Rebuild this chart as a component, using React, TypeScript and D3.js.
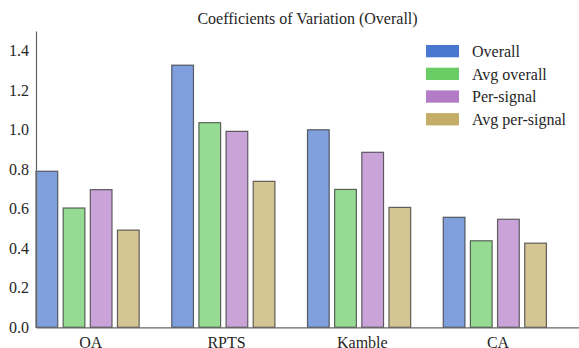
import React, { useEffect, useRef } from "react";
import * as d3 from "d3";

const categories = ["OA", "RPTS", "Kamble", "CA"];
const seriesNames = ["Overall", "Avg overall", "Per-signal", "Avg per-signal"];
const seriesColors = ["#4878CF", "#6ACC65", "#B47CC7", "#C4AD66"];
const overall = [0.79, 1.327, 1.0, 0.557];
const avgOverall = [0.604, 1.036, 0.698, 0.438];
const perSignal = [0.697, 0.992, 0.886, 0.547];
const avgPerSignal = [0.492, 0.739, 0.607, 0.426];
const yTicks = [0.0, 0.2, 0.4, 0.6, 0.8, 1.0, 1.2, 1.4];

const series = [overall, avgOverall, perSignal, avgPerSignal];

export default function App() {
  const svgRef = useRef<SVGSVGElement>(null);

  useEffect(() => {
    const svg = d3.select(svgRef.current);
    svg.selectAll("*").remove();

    const width = 579;
    const height = 348;
    const font = "'Liberation Serif', 'DejaVu Serif', serif";
    const fontSize = 16;

    const x = d3.scaleLinear().domain([0, 4]).range([36, 579]);
    const y = d3.scaleLinear().domain([0, 1.5]).range([327.3, 31]);
    const barOffset = 0.2;
    const barWidth = 0.16;

    svg.attr("width", width).attr("height", height);

    // bars
    series.forEach((vals, j) => {
      svg
        .append("g")
        .selectAll("rect")
        .data(vals)
        .join("rect")
        .attr("x", (_, i) => x(i + j * barOffset))
        .attr("y", (d) => y(d))
        .attr("width", x(barWidth) - x(0))
        .attr("height", (d) => y(0) - y(d))
        .attr("fill", seriesColors[j])
        .attr("fill-opacity", 0.7)
        .attr("stroke", "#333")
        .attr("stroke-opacity", 0.75)
        .attr("stroke-width", 1.2);
    });

    // y axis
    const yAxis = svg
      .append("g")
      .attr("transform", `translate(${x(0)},0)`)
      .call(
        d3
          .axisLeft(y)
          .tickValues(yTicks)
          .tickSize(0)
          .tickPadding(7)
          .tickFormat(d3.format(".1f"))
      );
    yAxis.select(".domain").attr("stroke", "#666").attr("stroke-width", 1.2);
    yAxis
      .selectAll("text")
      .attr("font-family", font)
      .attr("font-size", fontSize)
      .attr("fill", "#262626");

    // x axis
    const xAxis = svg
      .append("g")
      .attr("transform", `translate(0,${y(0)})`)
      .call(
        d3
          .axisBottom(x)
          .tickValues(categories.map((_, i) => i + 0.4))
          .tickSize(0)
          .tickPadding(9)
          .tickFormat((_, i) => categories[i])
      );
    xAxis.select(".domain").attr("stroke", "#666").attr("stroke-width", 1.2);
    xAxis
      .selectAll("text")
      .attr("font-family", font)
      .attr("font-size", fontSize)
      .attr("fill", "#262626");

    // title
    svg
      .append("text")
      .attr("x", (x(0) + x(4)) / 2)
      .attr("y", 24)
      .attr("text-anchor", "middle")
      .attr("font-family", font)
      .attr("font-size", fontSize)
      .attr("fill", "#262626")
      .text("Coefficients of Variation (Overall)");

    // legend
    const legend = svg
      .append("g")
      .selectAll("g")
      .data(seriesNames)
      .join("g")
      .attr("transform", (_, i) => `translate(426,${45 + i * 22.7})`);
    legend
      .append("rect")
      .attr("width", 33)
      .attr("height", 12.3)
      .attr("fill", (_, i) => seriesColors[i]);
    legend
      .append("text")
      .attr("x", 46)
      .attr("y", 11.8)
      .attr("font-family", font)
      .attr("font-size", fontSize)
      .attr("fill", "#262626")
      .text((d) => d);
  }, []);

  return (
    <svg
      ref={svgRef}
      style={{ position: "absolute", left: 0, top: 0, background: "#fff" }}
    />
  );
}
